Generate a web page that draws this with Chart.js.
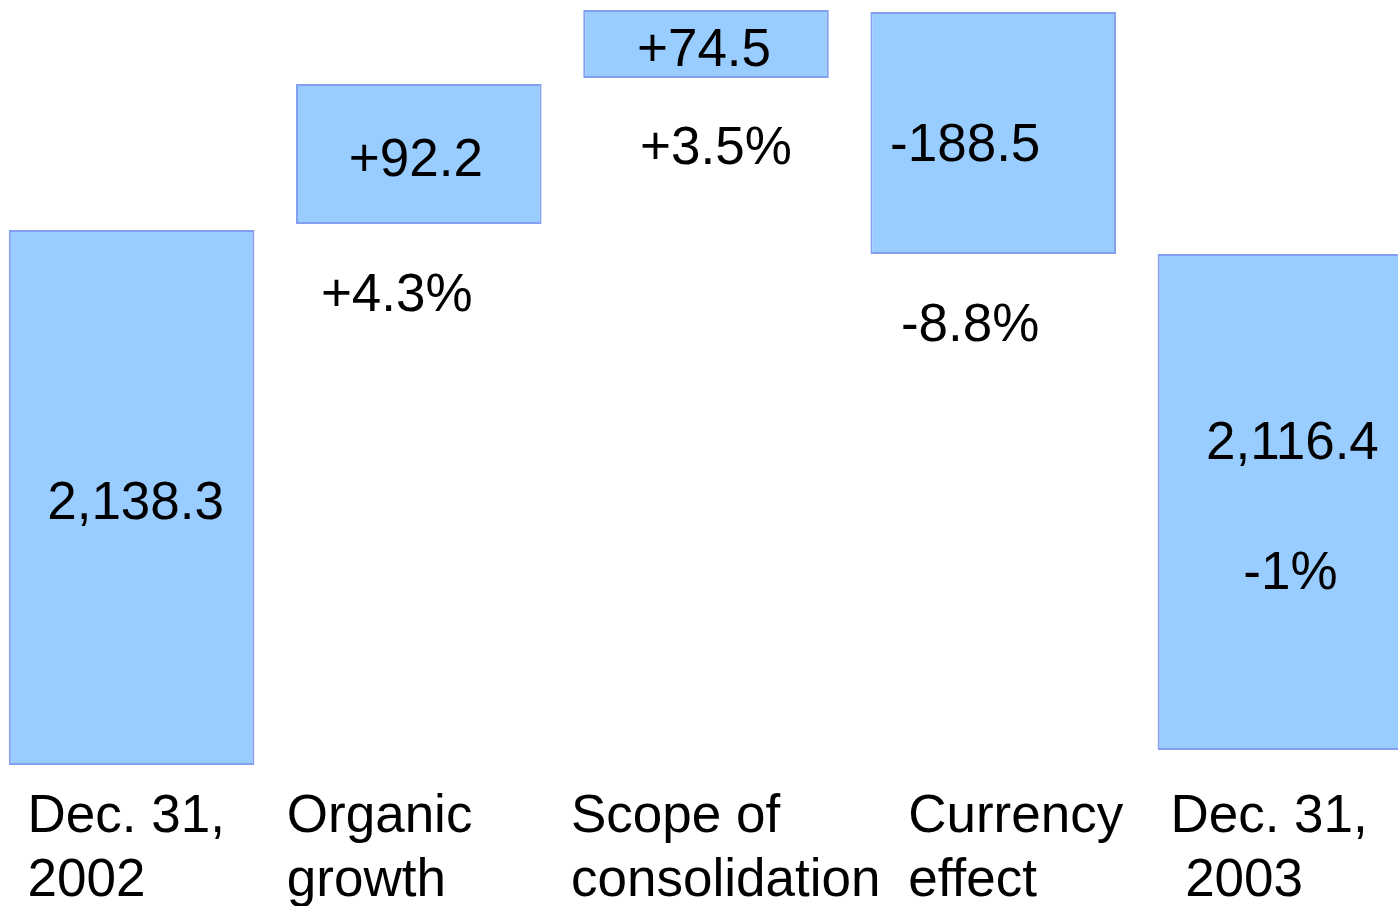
<!DOCTYPE html>
<html>
<head>
<meta charset="utf-8">
<script src="https://cdn.jsdelivr.net/npm/chart.js@4"></script>
<style>
  html, body { margin: 0; padding: 0; background: #ffffff; overflow: hidden; }
  #wrap { position: absolute; left: -12px; top: 0; width: 1436px; height: 906px; }
</style>
</head>
<body>
<div id="wrap"><canvas id="chart"></canvas></div>
<script>
// --- Data (bar extents are in the chart's own drawing units) ---
const categories = [['Dec. 31,', '2002'], ['Organic', 'growth'], ['Scope of', 'consolidation'], ['Currency', 'effect'], ['Dec. 31,', ' 2003']];
const barLow  = [5, 546, 692, 516, 20];
const barHigh = [540, 686, 760, 758, 516];
const valueLabels = ['2,138.3', '+92.2', '+74.5', '-188.5', '2,116.4'];
const pctLabels = ['', '+4.3%', '+3.5%', '-8.8%', '-1%'];

const FONT = "'Liberation Sans', Arial, sans-serif";

// where the texts sit: dx from bar centre (px), y as a value on the y scale
const valuePlace = [[4, 270], [-3, 613], [-2, 723], [-28, 628], [12, 330]];
const pctPlace = [null, [-22, 478], [10, 625], [-23, 448], [10, 200]];
const catDx = [-104, -132, -135, -85, -110];

const rangeData = barLow.map((lo, i) => [lo, barHigh[i]]);

const labelPlugin = {
    id: 'waterfallLabels',
    afterDatasetsDraw(chart) {
        const { ctx, scales: { y } } = chart;
        const meta = chart.getDatasetMeta(0);
        ctx.save();
        ctx.fillStyle = '#000000';
        ctx.font = '53px ' + FONT;
        ctx.textAlign = 'center';
        ctx.textBaseline = 'alphabetic';
        meta.data.forEach((bar, i) => {
            const vp = valuePlace[i];
            ctx.fillText(valueLabels[i], bar.x + vp[0], y.getPixelForValue(vp[1]) + 19);
            if (pctPlace[i]) {
                const pp = pctPlace[i];
                ctx.fillText(pctLabels[i], bar.x + pp[0], y.getPixelForValue(pp[1]) + 19);
            }
        });
        // category labels, left aligned under each bar
        ctx.textAlign = 'left';
        meta.data.forEach((bar, i) => {
            categories[i].forEach((line, j) => {
                ctx.fillText(line, bar.x + catDx[i], 832 + j * 64);
            });
        });
        ctx.restore();
    }
};

new Chart(document.getElementById('chart'), {
    type: 'bar',
    data: {
        labels: categories,
        datasets: [{
            data: rangeData,
            backgroundColor: '#99ccff',
            borderColor: '#849ff2',
            borderWidth: 2,
            borderSkipped: false,
            barPercentage: 0.855,
            categoryPercentage: 1.0
        }]
    },
    options: {
        responsive: true,
        maintainAspectRatio: false,
        animation: false,
        layout: { padding: { top: 0, bottom: 136, left: 0, right: 0 } },
        scales: {
            x: { display: false },
            y: { display: false, min: 0, max: 770 }
        },
        plugins: {
            legend: { display: false },
            tooltip: { enabled: false }
        }
    },
    plugins: [labelPlugin]
});
</script>
</body>
</html>
